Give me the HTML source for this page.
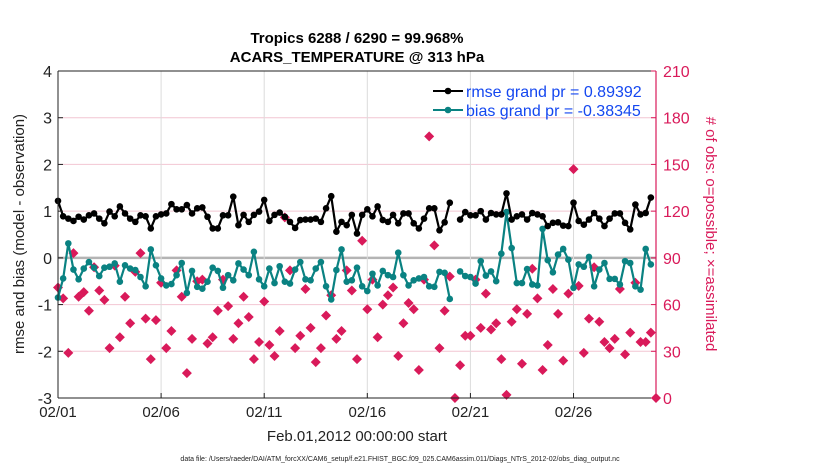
<!DOCTYPE html>
<html><head><meta charset="utf-8"><style>
body{margin:0;background:#fff;width:830px;height:470px;overflow:hidden}
svg{font-family:"Liberation Sans",sans-serif}
</style></head><body>
<svg id="chart" width="830" height="470">
<g id="grid"></g><g id="marks"></g><g id="axes"></g>
</svg>
<script>
const days=[0,5,10,15,20,25];
const dayLabels=['02/01','02/06','02/11','02/16','02/21','02/26'];
const leftTicks=[-3,-2,-1,0,1,2,3,4];
const rightTicks=[0,30,60,90,120,150,180,210];
const rmse=[1.22,0.89,0.84,0.79,0.88,0.82,0.91,0.95,0.84,0.74,0.99,0.89,1.1,0.95,0.84,0.77,0.91,0.89,0.63,0.89,0.93,0.95,1.15,1.04,1.04,1.13,0.95,1.06,1.08,0.88,0.63,0.63,0.91,0.91,1.31,0.7,0.92,0.77,0.92,0.99,1.24,0.79,0.92,0.97,0.88,0.77,0.64,0.81,0.82,0.82,0.84,0.77,1.06,1.32,0.56,0.77,0.7,0.92,0.52,0.92,1.04,0.89,1.1,0.81,0.77,0.92,0.74,0.95,0.95,0.74,0.63,0.84,1.06,1.06,0.59,0.76,1.18,null,0.82,0.98,0.91,0.91,1.0,0.82,0.96,0.93,0.93,1.38,0.82,0.89,0.93,0.82,0.96,0.93,0.89,0.68,0.75,0.76,0.69,0.68,1.18,0.79,0.71,0.82,0.96,0.84,0.68,0.84,0.95,0.95,0.75,0.61,1.14,0.93,0.96,1.29,null];
const bias=[-0.85,-0.44,0.31,-0.25,-0.46,-0.23,-0.09,-0.21,-0.39,-0.21,-0.19,-0.12,-0.51,-0.16,-0.23,-0.26,-0.41,-0.61,0.18,-0.16,-0.44,-0.59,-0.56,-0.37,-0.11,-0.75,-0.28,-0.62,-0.66,-0.51,-0.21,-0.28,-0.64,-0.37,-0.48,-0.12,-0.25,-0.37,0.13,-0.46,-0.61,-0.23,-0.54,-0.18,-0.51,-0.55,-0.25,-0.09,-0.46,-0.48,-0.23,-0.09,-0.61,-0.89,-0.26,0.18,-0.51,-0.48,-0.21,-0.61,-0.71,-0.34,-0.59,-0.28,-0.37,-0.41,0.11,-0.37,-0.59,-0.48,-0.44,-0.41,-0.61,-0.62,-0.3,-0.32,-0.88,null,-0.29,-0.39,-0.41,-0.55,-0.07,-0.38,-0.29,-0.5,0.09,0.98,0.21,-0.54,-0.54,-0.24,-0.57,-0.59,0.62,-0.05,-0.31,0.07,0.19,-0.04,-0.64,-0.14,-0.19,0.02,-0.61,-0.25,-0.11,-0.45,-0.45,-0.57,-0.07,-0.11,-0.61,-0.68,0.19,-0.14,null];
const nobs=[71,64,29,93,65,68,56,84,69,63,32,85,39,65,48,81,93,51,25,50,74,32,43,82,65,16,38,75,76,35,39,56,76,59,38,48,65,52,25,36,62,34,27,43,116,82,32,40,70,45,23,32,53,66,38,43,82,69,25,101,57,76,39,60,66,71,27,48,61,57,18,76,168,98,32,56,78,0,21,40,40,76,45,67,44,48,25,2,49,57,22,54,83,64,18,34,70,54,24,67,147,72,29,51,84,49,36,32,38,70,28,42,74,36,36,42,0];

const svgNS='http://www.w3.org/2000/svg';
const L=58,R=656,T=71,B=398;
const X=t=>L+(t/29)*(R-L);
const Y=v=>T+(4-v)/7*(B-T);
const Y2=v=>B-v/210*(B-T);
const idxX=i=>X(i*0.25);
function mk(tag,attrs,parent,txt){const e=document.createElementNS(svgNS,tag);for(const k in attrs)e.setAttribute(k,attrs[k]);if(txt!==undefined)e.textContent=txt;parent.appendChild(e);return e;}
const grid=document.getElementById('grid'),marks=document.getElementById('marks'),axes=document.getElementById('axes'),svg=document.getElementById('chart');

leftTicks.forEach(v=>{if(v===4||v===-3)return;const g=mk('line',{x1:L,x2:R,y1:Y(v),y2:Y(v),stroke:v===0?'#b4b4b4':'#f2c6d2','stroke-width':v===0?2.5:1},grid);

});
days.forEach(d=>{if(d===0)return;const g=mk('line',{x1:X(d),x2:X(d),y1:T,y2:B,stroke:'#dcdcdc','stroke-width':1},grid);

});

// red diamonds
nobs.forEach((v,i)=>{if(v===null)return;const x=idxX(i),y=Y2(v);const p=mk('path',{d:`M${x},${y-5} L${x+5},${y} L${x},${y+5} L${x-5},${y} Z`,fill:'#d91a5a'},marks);

});

function series(arr,color,name){
  let d='',pen=false;
  arr.forEach((v,i)=>{if(v===null){pen=false;return;}d+=(pen?'L':'M')+idxX(i).toFixed(1)+','+Y(v).toFixed(1)+' ';pen=true;});
  const p=mk('path',{d:d,fill:'none',stroke:color,'stroke-width':2.2,'stroke-linejoin':'round'},marks);
  
  
  arr.forEach((v,i)=>{if(v===null)return;const c=mk('circle',{cx:idxX(i),cy:Y(v),r:3.3,fill:color},marks);
  
  });
}
series(bias,'#0a8282','bias');
series(rmse,'#000000','rmse');

// axes
let e;
e=mk('line',{x1:L,x2:R,y1:T,y2:T,stroke:'#222','stroke-width':1},axes);

e=mk('line',{x1:L,x2:L,y1:T,y2:B,stroke:'#222','stroke-width':1},axes);

e=mk('line',{x1:L,x2:R,y1:B,y2:B,stroke:'#222','stroke-width':1},axes);

e=mk('line',{x1:R,x2:R,y1:T,y2:B,stroke:'#d91a5a','stroke-width':1.2},axes);

leftTicks.forEach(v=>{mk('line',{x1:L,x2:L+5,y1:Y(v),y2:Y(v),stroke:'#222'},axes);
 e=mk('text',{x:L-6,y:Y(v)+6,'text-anchor':'end','font-size':16,fill:'#222'},axes,String(v));
 });
rightTicks.forEach(v=>{mk('line',{x1:R-5,x2:R,y1:Y2(v),y2:Y2(v),stroke:'#d91a5a'},axes);
 e=mk('text',{x:R+7,y:Y2(v)+6,'font-size':16,fill:'#d91a5a'},axes,String(v));
 });
days.forEach((d,i)=>{mk('line',{x1:X(d),x2:X(d),y1:B,y2:B-5,stroke:'#222'},axes);
 e=mk('text',{x:X(d),y:B+19,'text-anchor':'middle','font-size':15,fill:'#222'},axes,dayLabels[i]);
 });
</script>
<svg style="position:absolute;left:0;top:0" width="830" height="470">
<text x="357" y="43" text-anchor="middle" font-size="15" font-weight="bold" font-family="Liberation Sans,sans-serif">Tropics 6288 / 6290 = 99.968%</text>
<text x="357" y="62" text-anchor="middle" font-size="15" font-weight="bold" font-family="Liberation Sans,sans-serif">ACARS_TEMPERATURE @ 313 hPa</text>
<text x="357" y="441" text-anchor="middle" font-size="15" font-family="Liberation Sans,sans-serif" fill="#222">Feb.01,2012 00:00:00 start</text>
<text transform="translate(24,234) rotate(-90)" text-anchor="middle" font-size="15" font-family="Liberation Sans,sans-serif" fill="#222">rmse and bias (model - observation)</text>
<text transform="translate(706,234) rotate(90)" text-anchor="middle" font-size="15" font-family="Liberation Sans,sans-serif" fill="#d91a5a"># of obs: o=possible; ×=assimilated</text>
<text x="400" y="461" text-anchor="middle" font-size="7" font-family="Liberation Sans,sans-serif" fill="#222">data file: /Users/raeder/DAI/ATM_forcXX/CAM6_setup/f.e21.FHIST_BGC.f09_025.CAM6assim.011/Diags_NTrS_2012-02/obs_diag_output.nc</text>
<g>
<line x1="433" x2="463" y1="91" y2="91" stroke="#000" stroke-width="2"/><circle cx="448" cy="91" r="3.3" fill="#000"/>
<text x="466" y="97" font-size="16" fill="#1447f0" font-family="Liberation Sans,sans-serif">rmse grand pr = 0.89392</text>
<line x1="433" x2="463" y1="110" y2="110" stroke="#0a8282" stroke-width="2"/><circle cx="448" cy="110" r="3.3" fill="#0a8282"/>
<text x="466" y="116" font-size="16" fill="#1447f0" font-family="Liberation Sans,sans-serif">bias grand pr = -0.38345</text>
</g>
</svg>
</body></html>
